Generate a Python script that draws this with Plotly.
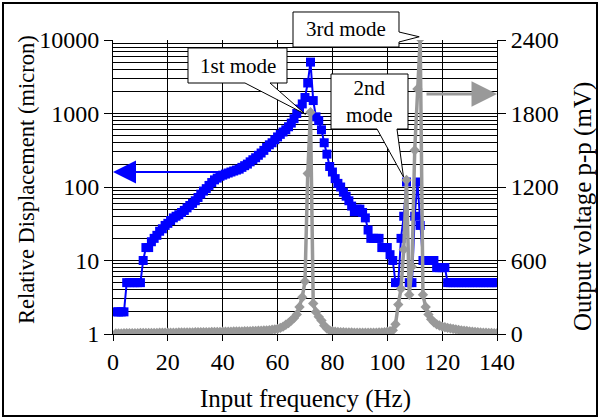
import math
import plotly.graph_objects as go

# ---------------- data ----------------
freq_hz = list(range(1, 141))

displacement_micron = (
    [2, 2, 2, 2] +                                   # 1-4
    [5, 5, 5, 5, 5, 5] +                             # 5-10
    [10, 15, 15, 18, 20, 22, 25, 27, 30, 32] +       # 11-20
    [35, 38, 40, 42, 45, 48, 52, 56, 60, 65] +       # 21-30
    [72, 80, 88, 95, 105, 115, 125, 132, 140, 145] + # 31-40
    [150, 155, 160, 165, 170, 175, 185, 195, 205, 220] +   # 41-50
    [235, 250, 270, 290, 315, 345, 375, 400, 440, 480] +   # 51-60
    [520, 560, 600, 660, 740, 850, 1000, 1150, 1350, 1650] +  # 61-70
    [2600, 5000, 1500, 900, 800, 600, 400, 280, 190, 160] +   # 71-80
    [130, 112, 100, 85, 75, 65, 55, 46, 50, 50] +     # 81-90
    [45, 38, 26, 20, 20, 20, 20, 15, 15, 15] +        # 91-100
    [12, 10, 5, 5, 20, 40, 117, 5, 5, 40] +           # 101-110
    [117, 30, 10, 10, 10, 10, 10, 8, 8, 8] +          # 111-120
    [8] + [5] * 19                                    # 121-140
)

voltage_mv = (
    [5, 5, 5, 6, 6, 6, 7, 7, 7, 8] +                  # 1-10
    [8, 8, 8, 9, 9, 9, 10, 10, 10, 10] +              # 11-20
    [11, 11, 11, 12, 12, 12, 13, 13, 13, 14] +        # 21-30
    [14, 14, 15, 15, 15, 16, 16, 17, 17, 18] +        # 31-40
    [18, 19, 19, 20, 20, 21, 21, 22, 22, 23] +        # 41-50
    [24, 25, 26, 27, 28, 30, 32, 35, 38, 42] +        # 51-60
    [50, 60, 75, 90, 110, 130, 160, 220, 300, 430] +  # 61-70
    [1310, 1810, 250, 180, 140, 110, 70, 45, 30, 22] +  # 71-80
    [18, 16, 15, 14, 13, 12, 12, 11, 11, 10] +        # 81-90
    [10, 10, 10, 10, 10, 11, 12, 13, 15, 18] +        # 91-100
    [22, 30, 80, 240, 370, 690, 1257, 320, 550, 1500] +   # 101-110
    [2000, 2410, 320, 220, 160, 120, 95, 80, 70, 60] +    # 111-120
    [55, 50, 46, 42, 38, 34, 30, 27, 24, 21] +        # 121-130
    [18, 16, 14, 12, 11, 10, 9, 8, 7, 6]              # 131-140
)
assert len(displacement_micron) == 140 and len(voltage_mv) == 140

x_ticks = [0, 20, 40, 60, 80, 100, 120, 140]
left_ticks = [1, 10, 100, 1000, 10000]
right_ticks = [0, 600, 1200, 1800, 2400]

# ---------------- layout constants (pixels) ----------------
W, H = 600, 419
L, R, T, B = 113, 103, 40, 85
PW, PH = W - L - R, H - T - B
X_MAX, Y2_MAX = 140, 2400
FONT = "Liberation Serif"

def pxx(p):
    return (p - L) / PW

def pxy(p):
    return (T + PH - p) / PH

def data_px(f, v):
    return L + f / X_MAX * PW, T + PH - v / Y2_MAX * PH

fig = go.Figure()
fig.add_trace(go.Scatter(
    x=freq_hz, y=displacement_micron, mode="lines+markers",
    line=dict(color="#0000ff", width=2),
    marker=dict(symbol="square", size=9, color="#0000ff"),
    yaxis="y", showlegend=False))
fig.add_trace(go.Scatter(
    x=freq_hz, y=voltage_mv, mode="lines+markers",
    line=dict(color="#999999", width=3.5),
    marker=dict(symbol="diamond", size=8, color="#999999"),
    yaxis="y2", showlegend=False))

tickfont = dict(family=FONT, size=24, color="black")

fig.update_layout(
    width=W, height=H,
    margin=dict(l=L, r=R, t=T, b=B),
    paper_bgcolor="white", plot_bgcolor="white",
    font=dict(family=FONT, color="black"),
    xaxis=dict(range=[0, X_MAX], tickvals=x_ticks, showgrid=True,
               gridcolor="black", gridwidth=1, zeroline=False,
               showline=True, linecolor="black", linewidth=1,
               ticks="outside", ticklen=6, tickcolor="black",
               tickfont=tickfont),
    yaxis=dict(type="log", range=[0, 4], tickvals=left_ticks,
               ticktext=[str(v) for v in left_ticks],
               showgrid=True, gridcolor="black", gridwidth=1,
               minor=dict(dtick="D1", showgrid=True, gridcolor="black",
                          gridwidth=1, ticks=""),
               showline=True, linecolor="black", linewidth=1,
               ticks="outside", ticklen=8, tickcolor="black",
               tickfont=tickfont),
    yaxis2=dict(overlaying="y", side="right", range=[0, Y2_MAX],
                tickvals=right_ticks, showgrid=False, zeroline=False,
                showline=True, linecolor="black", linewidth=1,
                ticks="outside", ticklen=8, tickcolor="black",
                tickfont=tickfont),
)

# outer frame
fig.add_shape(type="rect", xref="paper", yref="paper",
              x0=pxx(3), x1=pxx(597), y0=pxy(416), y1=pxy(3),
              line=dict(color="black", width=2), layer="above")

# callouts
def callout_path(points):
    pts = [(pxx(a), pxy(b)) for a, b in points]
    return "M" + " L".join(f"{a:.5f},{b:.5f}" for a, b in pts) + " Z"

i1 = voltage_mv.index(max(voltage_mv[60:80]))
tx1, ty1 = data_px(freq_hz[i1], voltage_mv[i1])
tip1 = (tx1 - 5, ty1 + 2)
i2 = voltage_mv.index(max(voltage_mv[100:108]))
tx2, ty2 = data_px(freq_hz[i2], voltage_mv[i2])
tip2 = (tx2 - 3, ty2 - 3)
i3 = voltage_mv.index(max(voltage_mv))
tx3, ty3 = data_px(freq_hz[i3], voltage_mv[i3])
tip3 = (tx3 - 1, ty3 - 2)

boxes = [
    [(188, 48), (287, 48), (287, 83), (270, 83), tip1, (245, 83), (188, 83)],
    [(331, 74), (408, 74), (408, 129), (397, 129), tip2, (377, 129), (331, 129)],
    [(293, 12), (399, 12), (399, 32), tip3, (399, 42), (399, 47), (293, 47)],
]
for b in boxes:
    fig.add_shape(type="path", xref="paper", yref="paper",
                  path=callout_path(b), fillcolor="white",
                  line=dict(color="black", width=1), layer="above")

labels = [("1st mode", 237.5, 65.5), ("2nd<br>mode", 369.5, 101.5),
          ("3rd mode", 346, 29.5)]
for txt, cx, cy in labels:
    fig.add_annotation(text=txt, xref="paper", yref="paper",
                       x=pxx(cx), y=pxy(cy), showarrow=False,
                       font=dict(family=FONT, size=21, color="black"),
                       xanchor="center", yanchor="middle")

# axis indicator arrows
fig.add_annotation(x=0, y=math.log10(160), xref="x", yref="y", text="",
                   showarrow=True, ax=118, ay=0, arrowhead=2, arrowsize=2.3,
                   arrowwidth=2, arrowcolor="#0000ff")
fig.add_annotation(x=X_MAX, y=1960, xref="x", yref="y2", text="",
                   showarrow=True, ax=-72, ay=0, arrowhead=2, arrowsize=1.7,
                   arrowwidth=3, arrowcolor="#999999")

# axis titles
fig.add_annotation(text="Relative Displacement (micron)", xref="paper", yref="paper",
                   x=pxx(26), y=pxy(180), textangle=-90, showarrow=False,
                   font=dict(family=FONT, size=22.5, color="black"),
                   xanchor="center", yanchor="middle")
fig.add_annotation(text="Output voltage p-p (mV)", xref="paper", yref="paper",
                   x=pxx(583), y=pxy(207), textangle=-90, showarrow=False,
                   font=dict(family=FONT, size=25, color="black"),
                   xanchor="center", yanchor="middle")
fig.add_annotation(text="Input frequency (Hz)", xref="paper", yref="paper",
                   x=pxx(305), y=pxy(399), showarrow=False,
                   font=dict(family=FONT, size=25, color="black"),
                   xanchor="center", yanchor="middle")

fig.write_html("out.html", config={"displayModeBar": False},
               post_script="document.body.style.margin='0';")
